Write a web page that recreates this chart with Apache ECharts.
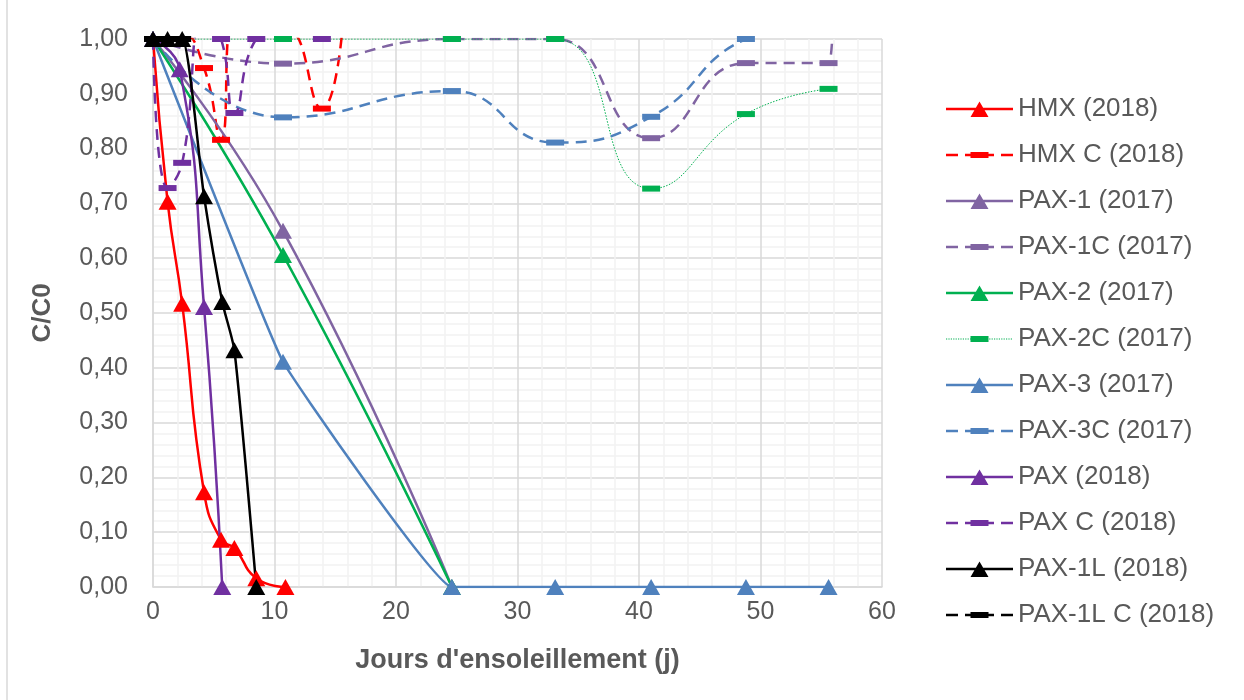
<!DOCTYPE html>
<html>
<head>
<meta charset="utf-8">
<script src="https://cdn.jsdelivr.net/npm/echarts@6/dist/echarts.min.js"></script>
<style>
  html, body { margin: 0; padding: 0; background: #ffffff; }
  #chart { width: 1244px; height: 700px; }
</style>
</head>
<body>
<div id="chart"></div>
<script>
// ---- data (days of sunshine, C/C0); values above 1 lie outside the plot and are clipped ----
const days2017 = [0, 10.7, 24.6, 33.1, 41.0, 48.8, 55.6];
const daysPax1C2017 = [0, 10.7, 24.6, 33.1, 41.0, 48.8, 55.6, 56.0];
const pax1_2017 = [1.00, 0.650, 0.00];
const pax1C_2017 = [1.00, 0.955, 1.00, 1.00, 0.819, 0.956, 0.956, 1.10];
const pax2_2017 = [1.00, 0.606, 0.00];
const pax2C_2017 = [1.00, 1.00, 1.00, 1.00, 0.727, 0.863, 0.909];
const pax3_2017 = [1.00, 0.411, 0.00, 0.00, 0.00, 0.00, 0.00];
const pax3C_2017 = [1.00, 0.857, 0.905, 0.811, 0.858, 1.00, 1.03];

const daysHmx2018 = [0, 1.2, 2.4, 4.2, 5.6, 6.7, 8.5, 10.9];
const hmx2018 = [1.00, 0.703, 0.517, 0.173, 0.086, 0.071, 0.016, 0.00];
const daysHmxC2018 = [0, 1.2, 2.4, 4.2, 5.6, 6.7, 8.5, 10.9, 13.9, 15.6];
const hmxC2018 = [1.00, 1.00, 1.01, 0.947, 0.816, 1.04, 1.02, 1.02, 0.873, 1.02];
const daysPax2018 = [0, 2.2, 4.2, 5.7];
const pax2018 = [1.00, 0.945, 0.511, 0.00];
const daysPaxC2018 = [0, 1.2, 2.4, 4.2, 5.6, 6.7, 8.5, 10.9, 13.9];
const paxC2018 = [1.00, 0.728, 0.774, 1.04, 1.00, 0.865, 1.00, 1.02, 1.00];
const daysPax1L2018 = [0, 1.2, 2.4, 4.2, 5.7, 6.7, 8.5];
const pax1L2018 = [1.00, 1.00, 1.00, 0.713, 0.520, 0.432, 0.00];
const daysPax1LC2018 = [0, 1.2, 2.4];
const pax1LC2018 = [1.00, 1.00, 1.00];

const seriesNames = ['HMX (2018)', 'HMX C (2018)', 'PAX-1 (2017)', 'PAX-1C (2017)',
  'PAX-2 (2017)', 'PAX-2C (2017)', 'PAX-3 (2017)', 'PAX-3C (2017)',
  'PAX (2018)', 'PAX C (2018)', 'PAX-1L (2018)', 'PAX-1L C (2018)'];

function pairs(xs, ys) { return ys.map((y, i) => [xs[i], y]); }

const TXT = '#595959';
const FONT = '"Liberation Sans", Arial, sans-serif';

// legend icons (line + marker), drawn in a 67 x 16 box
const SPECKS = 'M0 0h0.01v0.01h-0.01Z M66.99 15.99h0.01v0.01h-0.01Z ';
function r(x0, y0, x1, y1) { return `M${x0} ${y0}H${x1}V${y1}H${x0}Z `; }
const ICON_SOLID = 'path://' + SPECKS + r(0, 6.75, 67, 9.25) + 'M24.5 16L33.5 0.5L42.5 16Z';
const ICON_DASH = 'path://' + SPECKS + r(0, 6.75, 12, 9.25) + r(19, 6.75, 48, 9.25) +
  r(24.5, 5, 42.5, 11) + r(55, 6.75, 67, 9.25);
let dots = '';
for (let x = 0; x < 67; x += 2.4) dots += r(x.toFixed(1), 7.5, (x + 1.2).toFixed(1), 8.5);
const ICON_DOT = 'path://' + SPECKS + dots + r(24.5, 5, 42.5, 11);

function solid(name, color, xs, ys, sm) {
  return {
    name, type: 'line', data: pairs(xs, ys), smooth: sm == null ? 0.5 : sm,
    symbol: 'triangle', symbolSize: [18, 16],
    itemStyle: { color },
    lineStyle: { color, width: 2.5, type: 'solid' }
  };
}
function dashed(name, color, xs, ys, thin) {
  return {
    name, type: 'line', data: pairs(xs, ys), smooth: 0.5,
    symbol: 'rect', symbolSize: [18, 6],
    itemStyle: { color },
    lineStyle: thin ? { color, width: 1, type: [1.5, 1.5] }
                    : { color, width: 2.5, type: [11, 7] }
  };
}

const series = [
  solid(seriesNames[0], '#FF0000', daysHmx2018, hmx2018),
  dashed(seriesNames[1], '#FF0000', daysHmxC2018, hmxC2018),
  solid(seriesNames[2], '#8064A2', days2017, pax1_2017),
  dashed(seriesNames[3], '#8064A2', daysPax1C2017, pax1C_2017),
  solid(seriesNames[4], '#00B050', days2017, pax2_2017),
  dashed(seriesNames[5], '#00B050', days2017, pax2C_2017, true),
  solid(seriesNames[6], '#4F81BD', days2017, pax3_2017, 0.08),
  dashed(seriesNames[7], '#4F81BD', days2017, pax3C_2017),
  solid(seriesNames[8], '#7030A0', daysPax2018, pax2018),
  dashed(seriesNames[9], '#7030A0', daysPaxC2018, paxC2018),
  solid(seriesNames[10], '#000000', daysPax1L2018, pax1L2018, 0.2),
  dashed(seriesNames[11], '#000000', daysPax1LC2018, pax1LC2018)
];

const legendData = seriesNames.map((n, i) => ({
  name: n,
  icon: i === 5 ? ICON_DOT : (i % 2 === 0 ? ICON_SOLID : ICON_DASH)
}));

const chart = echarts.init(document.getElementById('chart'), null, { renderer: 'canvas' });
chart.setOption({
  animation: false,
  backgroundColor: '#ffffff',
  textStyle: { fontFamily: FONT },
  graphic: [{
    type: 'rect', shape: { x: 7, y: -3, width: 1300, height: 720 },
    style: { fill: 'none', stroke: '#D9D9D9', lineWidth: 1.5 }, silent: true
  }],
  grid: { left: 153, right: 362, top: 39, bottom: 113, containLabel: false },
  legend: {
    orient: 'vertical', left: 941, top: 91,
    itemWidth: 67, itemHeight: 16, itemGap: 20,
    symbolKeepAspect: false,
    data: legendData,
    textStyle: { color: TXT, fontSize: 26, lineHeight: 26, fontFamily: FONT }
  },
  xAxis: {
    type: 'value', min: 0, max: 60, interval: 10,
    name: "Jours d'ensoleillement (j)", nameLocation: 'middle', nameGap: 60,
    nameTextStyle: { color: TXT, fontSize: 27, fontWeight: 'bold', fontFamily: FONT },
    axisLine: { show: true, lineStyle: { color: '#D9D9D9', width: 1.5 } },
    axisTick: { show: false },
    axisLabel: { color: TXT, fontSize: 25, margin: 13, fontFamily: FONT },
    splitLine: { show: true, lineStyle: { color: '#D9D9D9', width: 1.5 } },
    minorSplitLine: { show: true, lineStyle: { color: '#F2F2F2', width: 1.5 } },
    minorTick: { show: false, splitNumber: 5 }
  },
  yAxis: {
    type: 'value', min: 0, max: 1, interval: 0.1,
    name: 'C/C0', nameLocation: 'middle', nameGap: 97,
    nameTextStyle: { color: TXT, fontSize: 26, fontWeight: 'bold', fontFamily: FONT },
    axisLine: { show: true, lineStyle: { color: '#D9D9D9', width: 1.5 } },
    axisTick: { show: false },
    axisLabel: { color: TXT, fontSize: 25, margin: 25, fontFamily: FONT,
      formatter: v => v.toFixed(2).replace('.', ',') },
    splitLine: { show: true, lineStyle: { color: '#D9D9D9', width: 1.5 } },
    minorSplitLine: { show: true, lineStyle: { color: '#F2F2F2', width: 1.5 } },
    minorTick: { show: false, splitNumber: 5 }
  },
  series
});
</script>
</body>
</html>
